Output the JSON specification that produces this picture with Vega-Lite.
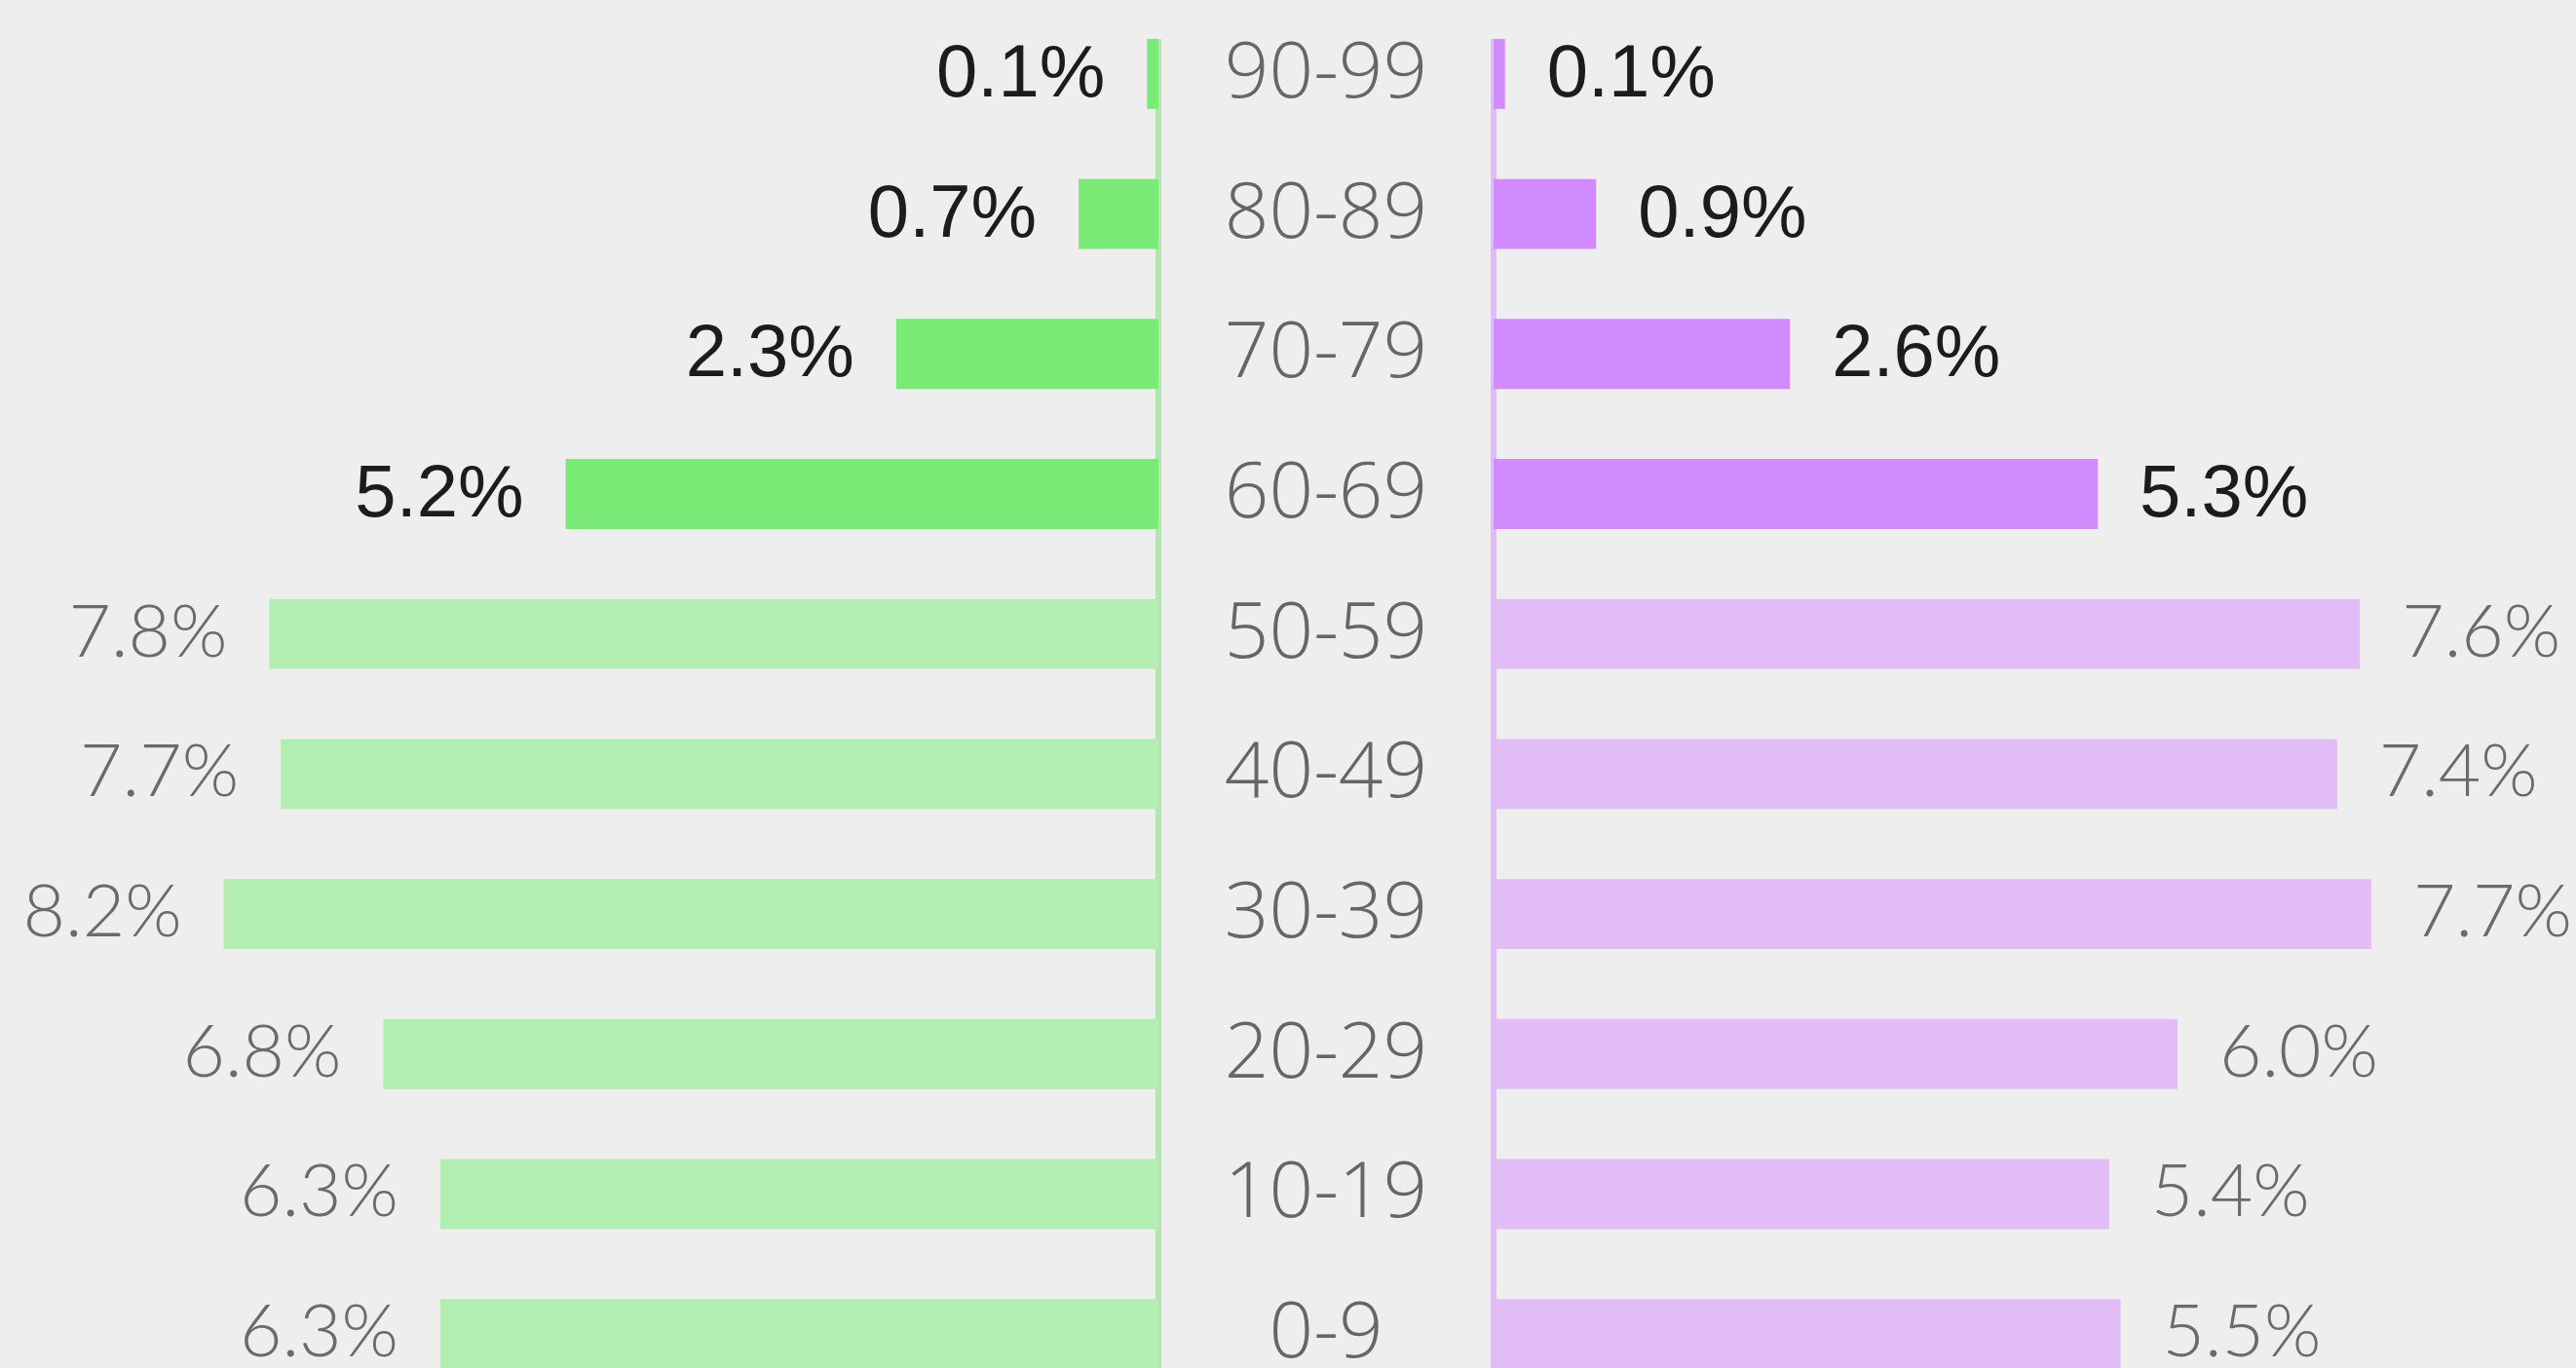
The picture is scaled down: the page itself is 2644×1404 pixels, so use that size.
{
  "$schema": "https://vega.github.io/schema/vega-lite/v6.json",
  "background": "#eeeeee",
  "padding": {"left": 0, "top": 4, "right": 0, "bottom": 0},
  "spacing": 0,
  "bounds": "flush",
  "config": {"view": {"stroke": null}},
  "data": {
    "values": [
      {"age": "90-99", "left": 0.001, "right": 0.001},
      {"age": "80-89", "left": 0.007, "right": 0.009},
      {"age": "70-79", "left": 0.023, "right": 0.026},
      {"age": "60-69", "left": 0.052, "right": 0.053},
      {"age": "50-59", "left": 0.078, "right": 0.076},
      {"age": "40-49", "left": 0.077, "right": 0.074},
      {"age": "30-39", "left": 0.082, "right": 0.077},
      {"age": "20-29", "left": 0.068, "right": 0.060},
      {"age": "10-19", "left": 0.063, "right": 0.054},
      {"age": "0-9", "left": 0.063, "right": 0.055}
    ]
  },
  "hconcat": [
    {
      "width": 1189,
      "height": 1437,
      "encoding": {
        "y": {
          "field": "age",
          "type": "nominal",
          "sort": ["90-99", "80-89", "70-79", "60-69", "50-59", "40-49", "30-39", "20-29", "10-19", "0-9"],
          "scale": {"paddingInner": 0.5, "paddingOuter": 0.25},
          "axis": null
        }
      },
      "layer": [
        {
          "mark": {"type": "rule", "color": "#b3e6b3", "strokeWidth": 5},
          "encoding": {
            "x": {"datum": 0, "type": "quantitative", "scale": {"domain": [0, 0.101624], "reverse": true, "nice": false, "zero": true}, "axis": null},
            "y": {"datum": "90-99", "bandPosition": 0},
            "y2": {"datum": "0-9", "bandPosition": 1}
          }
        },
        {
          "mark": {"type": "bar"},
          "encoding": {
            "x": {"field": "left", "type": "quantitative"},
            "color": {
              "condition": {"test": "indexof(['60-69','70-79','80-89','90-99'], datum.age) >= 0", "value": "#79ea76"},
              "value": "#b2edb2"
            }
          }
        },
        {
          "transform": [{"filter": "indexof(['60-69','70-79','80-89','90-99'], datum.age) < 0"}],
          "mark": {"type": "text", "align": "right", "baseline": "middle", "dx": -43, "font": "Lato", "fontWeight": 300, "fontSize": 75, "color": "#6b6b6b"},
          "encoding": {
            "x": {"field": "left", "type": "quantitative"},
            "text": {"field": "left", "type": "quantitative", "format": ".1%"}
          }
        },
        {
          "transform": [{"filter": "indexof(['60-69','70-79','80-89','90-99'], datum.age) >= 0"}],
          "mark": {"type": "text", "align": "right", "baseline": "middle", "dx": -43, "font": "Liberation Sans", "fontWeight": 400, "fontSize": 76, "color": "#1c1c1c"},
          "encoding": {
            "x": {"field": "left", "type": "quantitative"},
            "text": {"field": "left", "type": "quantitative", "format": ".1%"}
          }
        }
      ]
    },
    {
      "width": 344,
      "height": 1437,
      "mark": {"type": "text", "align": "center", "baseline": "middle", "font": "Open Sans", "fontWeight": 300, "fontSize": 80, "color": "#666666"},
      "encoding": {
        "y": {
          "field": "age",
          "type": "nominal",
          "sort": ["90-99", "80-89", "70-79", "60-69", "50-59", "40-49", "30-39", "20-29", "10-19", "0-9"],
          "scale": {"paddingInner": 0.5, "paddingOuter": 0.25},
          "axis": null
        },
        "text": {"field": "age", "type": "nominal"}
      }
    },
    {
      "width": 1111,
      "height": 1437,
      "encoding": {
        "y": {
          "field": "age",
          "type": "nominal",
          "sort": ["90-99", "80-89", "70-79", "60-69", "50-59", "40-49", "30-39", "20-29", "10-19", "0-9"],
          "scale": {"paddingInner": 0.5, "paddingOuter": 0.25},
          "axis": null
        }
      },
      "layer": [
        {
          "mark": {"type": "rule", "color": "#e0bcf5", "strokeWidth": 5},
          "encoding": {
            "x": {"datum": 0, "type": "quantitative", "scale": {"domain": [0, 0.094957], "nice": false, "zero": true}, "axis": null},
            "y": {"datum": "90-99", "bandPosition": 0},
            "y2": {"datum": "0-9", "bandPosition": 1}
          }
        },
        {
          "mark": {"type": "bar"},
          "encoding": {
            "x": {"field": "right", "type": "quantitative"},
            "color": {
              "condition": {"test": "indexof(['60-69','70-79','80-89','90-99'], datum.age) >= 0", "value": "#d18bfe"},
              "value": "#e1bcf6"
            }
          }
        },
        {
          "transform": [{"filter": "indexof(['60-69','70-79','80-89','90-99'], datum.age) < 0"}],
          "mark": {"type": "text", "align": "left", "baseline": "middle", "dx": 43, "font": "Lato", "fontWeight": 300, "fontSize": 75, "color": "#6b6b6b"},
          "encoding": {
            "x": {"field": "right", "type": "quantitative"},
            "text": {"field": "right", "type": "quantitative", "format": ".1%"}
          }
        },
        {
          "transform": [{"filter": "indexof(['60-69','70-79','80-89','90-99'], datum.age) >= 0"}],
          "mark": {"type": "text", "align": "left", "baseline": "middle", "dx": 43, "font": "Liberation Sans", "fontWeight": 400, "fontSize": 76, "color": "#1c1c1c"},
          "encoding": {
            "x": {"field": "right", "type": "quantitative"},
            "text": {"field": "right", "type": "quantitative", "format": ".1%"}
          }
        }
      ]
    }
  ]
}
